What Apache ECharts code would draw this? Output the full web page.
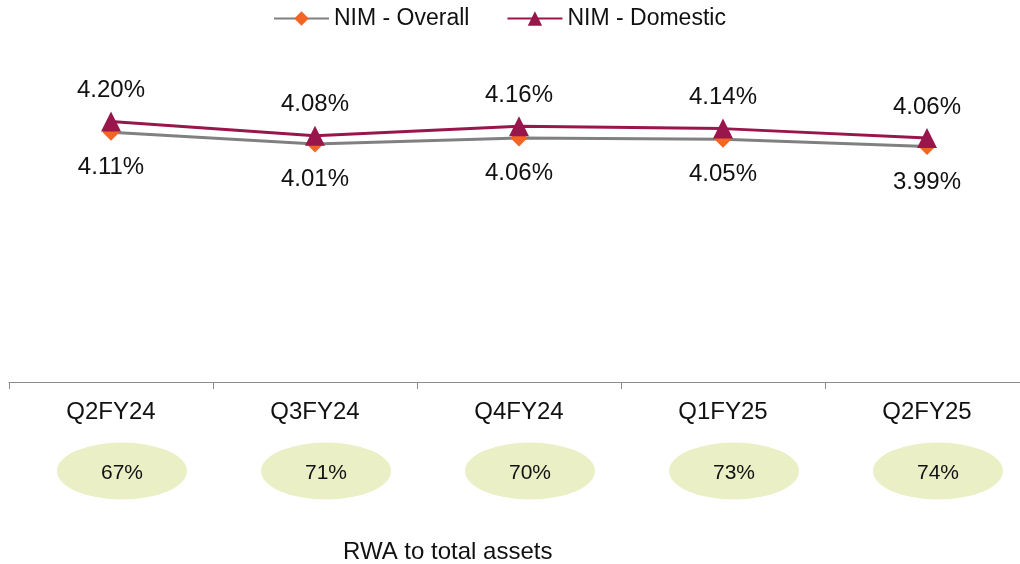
<!DOCTYPE html>
<html lang="en">
<head>
    <meta charset="UTF-8">
    <title>NIM and RWA to total assets</title>
    <script src="https://cdn.jsdelivr.net/npm/echarts@6/dist/echarts.min.js"></script>
    <style>
        html, body { margin: 0; padding: 0; background: #fff; overflow: hidden; }
    </style>
</head>
<body>
    <div id="chart" style="width: 1040px; height: 564px;"></div>
    <script>
        const quarters = ['Q2FY24', 'Q3FY24', 'Q4FY24', 'Q1FY25', 'Q2FY25'];
        const nimOverall = [4.11, 4.01, 4.06, 4.05, 3.99];
        const nimDomestic = [4.20, 4.08, 4.16, 4.14, 4.06];
        const rwaToAssets = [67, 71, 70, 73, 74];

        const font = 'Liberation Sans, Arial, sans-serif';
        const chart = echarts.init(document.getElementById('chart'));

        // the plot runs past the right edge of the window, so the div is a bit wider than 1020
        const option = {
            animation: false,
            textStyle: { fontFamily: font },
            legend: {
                top: 2,
                left: 268,
                itemWidth: 55,
                itemHeight: 18,
                itemGap: 37,
                textStyle: { fontSize: 23, color: '#111', fontFamily: font },
                data: ['NIM - Overall', 'NIM - Domestic']
            },
            grid: [
                { left: 9, width: 1020, top: 86, bottom: 182 },
                { left: 9, width: 1020, top: 442, height: 58 }
            ],
            xAxis: [{
                type: 'category',
                gridIndex: 0,
                data: quarters,
                boundaryGap: true,
                axisLine: { lineStyle: { color: '#8c8c8c', width: 1 } },
                axisTick: { show: true, length: 7, lineStyle: { color: '#8c8c8c' } },
                axisLabel: { fontSize: 24, color: '#111', margin: 18, fontFamily: font }
            }, {
                type: 'category',
                gridIndex: 1,
                data: quarters,
                show: false
            }],
            yAxis: [{
                type: 'value',
                gridIndex: 0,
                min: 2,
                max: 4.5,
                show: false
            }, {
                type: 'value',
                gridIndex: 1,
                min: 0,
                max: 1,
                show: false
            }],
            series: [{
                name: 'NIM - Overall',
                type: 'line',
                data: nimOverall,
                symbol: 'diamond',
                symbolSize: 17,
                lineStyle: { color: '#808080', width: 3 },
                itemStyle: { color: '#F26522' },
                z: 2,
                label: {
                    show: true,
                    position: 'bottom',
                    distance: 15,
                    fontSize: 24,
                    color: '#111',
                    formatter: p => p.value.toFixed(2) + '%'
                }
            }, {
                name: 'NIM - Domestic',
                type: 'line',
                data: nimDomestic,
                symbol: 'triangle',
                symbolSize: 20,
                lineStyle: { color: '#99164C', width: 3 },
                itemStyle: { color: '#99164C' },
                z: 3,
                label: {
                    show: true,
                    position: 'top',
                    distance: 9,
                    fontSize: 24,
                    color: '#111',
                    formatter: p => p.value.toFixed(2) + '%'
                }
            }, {
                name: 'RWA to total assets',
                type: 'scatter',
                xAxisIndex: 1,
                yAxisIndex: 1,
                data: rwaToAssets.map((v, i) => [i, 0.5, v]),
                symbol: 'circle',
                symbolSize: [130, 57],
                symbolOffset: [11, 0],
                clip: false,
                itemStyle: { color: '#EBEFC6', opacity: 1 },
                label: {
                    show: true,
                    position: 'inside',
                    offset: [0, 2],
                    fontSize: 21,
                    color: '#111',
                    formatter: p => p.value[2] + '%'
                }
            }],
            graphic: [{
                type: 'text',
                left: 343,
                top: 540,
                style: { text: 'RWA to total assets', fill: '#111', font: '24px ' + font }
            }]
        };

        chart.setOption(option);
    </script>
</body>
</html>
